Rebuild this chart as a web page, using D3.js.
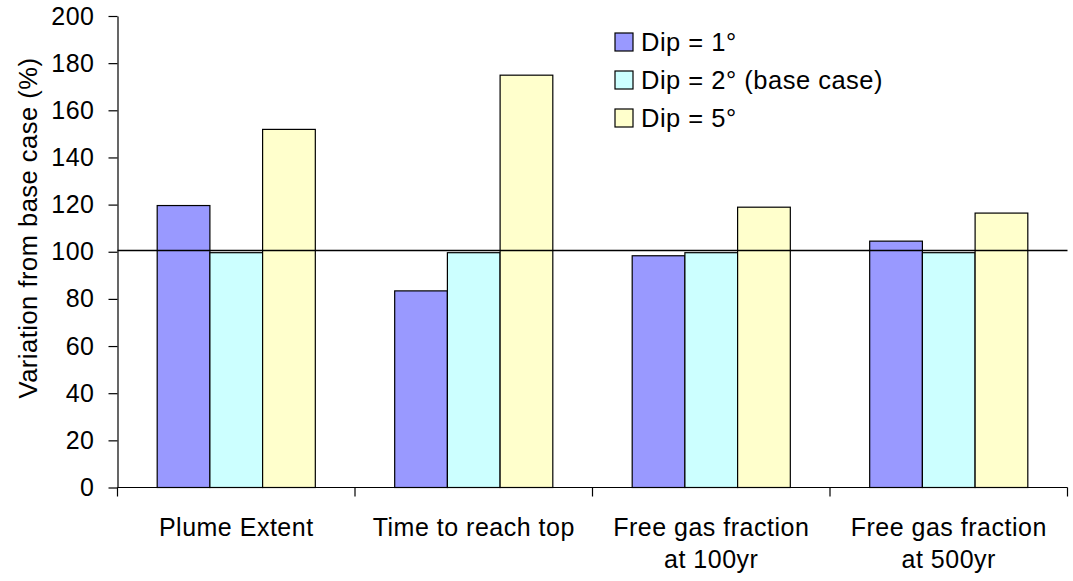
<!DOCTYPE html>
<html>
<head>
<meta charset="utf-8">
<script src="https://cdn.jsdelivr.net/npm/d3@7"></script>
<style>
  html, body { margin: 0; padding: 0; background: #fff; }
  svg { display: block; font-family: Arial, "Liberation Sans", sans-serif; }
  text { letter-spacing: 0.5px; }
</style>
</head>
<body>
<svg id="chart" width="1073" height="581"></svg>
<script>
// Sensitivity of plume metrics to formation dip, relative to the 2° base case
const categories = [["Plume Extent"], ["Time to reach top"], ["Free gas fraction", "at 100yr"], ["Free gas fraction", "at 500yr"]];
const seriesNames = ["Dip = 1°", "Dip = 2° (base case)", "Dip = 5°"];
const dip1 = [119.6, 83.4, 98.3, 104.5];
const dip2 = [99.6, 99.6, 99.6, 99.6];
const dip5 = [151.9, 174.9, 118.9, 116.4];
const baseLine = 100.5;
const yTicks = [0, 20, 40, 60, 80, 100, 120, 140, 160, 180, 200];
const colors = ["#9999FF", "#CCFFFF", "#FFFFCC"];

const series = [dip1, dip2, dip5];
const svg = d3.select("#chart");
const plotLeft = 117.5, plotRight = 1067.5, plotTop = 16, plotBottom = 487.5;
const axisFont = 25, legendFont = 25.5, titleFont = 25.5;

const x0 = d3.scaleBand().domain(d3.range(categories.length)).range([plotLeft, plotRight]).padding(0);
const x1 = d3.scaleBand().domain(d3.range(series.length)).range([0, x0.bandwidth()])
  .paddingInner(0).paddingOuter(0.753);
const y = d3.scaleLinear().domain([0, 200]).range([plotBottom, plotTop]);

// Bars
series.forEach((vals, si) => {
  svg.append("g").selectAll("rect").data(vals).join("rect")
    .attr("x", (d, i) => x0(i) + x1(si))
    .attr("y", d => y(d))
    .attr("width", x1.bandwidth())
    .attr("height", d => y(0) - y(d))
    .attr("fill", colors[si])
    .attr("stroke", "#000")
    .attr("stroke-width", 1.2);
});

// Base-case reference line
svg.append("line")
  .attr("x1", plotLeft).attr("x2", plotRight)
  .attr("y1", y(baseLine)).attr("y2", y(baseLine))
  .attr("stroke", "#000").attr("stroke-width", 1.5);

// Y axis
const yAxis = svg.append("g").attr("transform", `translate(${plotLeft},0)`)
  .call(d3.axisLeft(y).tickValues(yTicks).tickSize(9).tickPadding(14).tickSizeOuter(0));
yAxis.select(".domain").attr("stroke", "#000").attr("stroke-width", 1.2);
yAxis.selectAll(".tick line").attr("stroke", "#000").attr("stroke-width", 1.2);
yAxis.selectAll(".tick text").attr("font-size", axisFont).attr("font-family", "Arial, 'Liberation Sans', sans-serif").attr("fill", "#000");

// X axis with ticks at category boundaries
const xAxis = svg.append("g").attr("transform", `translate(0,${plotBottom})`);
xAxis.append("line").attr("x1", plotLeft).attr("x2", plotRight).attr("stroke", "#000").attr("stroke-width", 1.2);
const bounds = d3.range(categories.length + 1).map(i => i < categories.length ? x0(i) : x0(i - 1) + x0.step());
xAxis.selectAll(".bt").data(bounds).join("line")
  .attr("x1", d => d).attr("x2", d => d).attr("y1", 0).attr("y2", 9)
  .attr("stroke", "#000").attr("stroke-width", 1.2);
const labels = xAxis.selectAll(".cl").data(categories).join("text")
  .attr("text-anchor", "middle")
  .attr("font-size", axisFont)
  .attr("fill", "#000")
  .attr("transform", (d, i) => `translate(${x0(i) + x0.bandwidth() / 2},48.5)`);
labels.selectAll("tspan").data(d => d).join("tspan")
  .attr("x", 0).attr("dy", (d, j) => j === 0 ? 0 : 32).text(d => d);

// Y axis title
svg.append("text")
  .attr("transform", "translate(37,228) rotate(-90)")
  .attr("text-anchor", "middle")
  .attr("font-size", titleFont)
  .attr("fill", "#000")
  .text("Variation from base case (%)");

// Legend
const legend = svg.append("g").attr("transform", "translate(615,0)");
const rowY = [42, 80, 118];
seriesNames.forEach((name, i) => {
  legend.append("rect")
    .attr("x", 0).attr("y", rowY[i] - 9).attr("width", 18).attr("height", 18)
    .attr("fill", colors[i]).attr("stroke", "#000").attr("stroke-width", 1.2);
  legend.append("text")
    .attr("x", 26).attr("y", rowY[i]).attr("dy", "0.35em")
    .attr("font-size", legendFont).attr("fill", "#000")
    .text(name);
});
</script>
</body>
</html>
